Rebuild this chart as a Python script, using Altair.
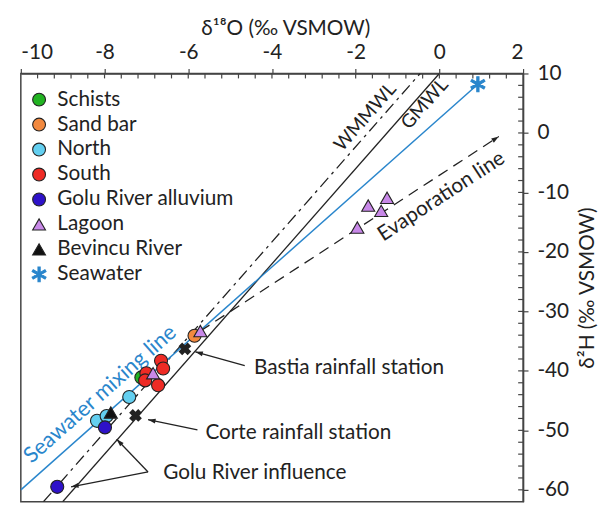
import math
import altair as alt
import pandas as pd

# ---------------- data ----------------
groups = ["Schists", "Sand bar", "North", "South", "Golu River alluvium",
          "Lagoon", "Bevincu River", "Seawater"]
fills = ["#22b322", "#f2893f", "#63cff0", "#ee2b25", "#2e12c9",
         "#c888e8", "#111111", "#2a86cc"]
strokes = ["#222222"] * 7 + ["#2a86cc"]

schists_x = [-7.12]; schists_y = [-41.1]
sandbar_x = [-5.85]; sandbar_y = [-34.1]
north_x = [-7.41, -8.18, -7.95]; north_y = [-44.4, -48.4, -47.6]
south_x = [-6.65, -6.60, -7.00, -7.03, -6.72]; south_y = [-38.3, -39.6, -40.4, -41.6, -42.4]
golu_x = [-7.99, -9.13]; golu_y = [-49.5, -59.5]
lagoon_x = [-1.96, -1.70, -1.39, -1.25, -5.71, -6.84]
lagoon_y = [-15.9, -12.2, -13.1, -10.9, -33.3, -40.4]
bevincu_x = [-7.85]; bevincu_y = [-47.0]
seawater_x = [0.92]; seawater_y = [8.2]

rain_names = ["Bastia", "Corte"]
rain_x = [-6.08, -7.26]; rain_y = [-36.3, -47.5]

# lines (end points)
gmwl_x = [-9.0, 0.0]; gmwl_y = [-62.0, 10.0]
wmmwl_x = [-9.46, -0.46]; wmmwl_y = [-62.0, 10.0]
mix_x = [-10.0, 0.92]; mix_y = [-60.0, 8.2]
evap_x = [-5.71, 1.42]; evap_y = [-33.3, -0.6]

# annotation arrows: start -> tip
arr_x0 = [-4.65, -5.78, -6.96, -6.96]
arr_y0 = [-39.1, -49.9, -57.0, -57.0]
arr_x1 = [-5.83, -6.96, -7.71, -8.80]
arr_y1 = [-36.8, -48.2, -51.5, -59.5]

texts = ["WMMWL", "GMWL", "Evaporation line", "Seawater mixing line",
         "Bastia rainfall station", "Corte rainfall station", "Golu River influence"]
text_x = [-1.77, -0.35, 0.05, -8.11, -4.43, -5.59, -6.60]
text_y = [2.7, 4.9, -10.7, -43.9, -39.6, -50.5, -57.2]

x_ticks = [-10, -8, -6, -4, -2, 0, 2]
y_ticks = [-60, -50, -40, -30, -20, -10, 0, 10]

# ---------------- helpers (styling) ----------------
W, H = 509, 434
XD = [-10, 2]; YD = [-62, 10]
KX = W / (XD[1] - XD[0]); KY = H / (YD[1] - YD[0])
FONT = "Lato"
BLUE = "#2a86cc"
INK = "#222222"


def screen_angle(x0, y0, x1, y1):
    dxp = (x1 - x0) * KX
    dyp = -(y1 - y0) * KY
    return math.degrees(math.atan2(dxp, -dyp)) % 360


def slope_text_angle(xs, ys):
    s = (ys[1] - ys[0]) / (xs[1] - xs[0]) * KY / KX
    return (360 - math.degrees(math.atan(s))) % 360


def asterisk_path(w=0.17, r=1.15):
    parts = []
    for a in (0, 60, 120):
        t = math.radians(a)
        c, s = math.cos(t), math.sin(t)
        pts = [(-w, -r), (w, -r), (w, r), (-w, r)]
        rp = [(px * c - py * s, px * s + py * c) for px, py in pts]
        parts.append("M" + "L".join(f"{px:.3f},{py:.3f}" for px, py in rp) + "Z")
    return "".join(parts)


ARROW = "M0,0L0.55,1.7L-0.55,1.7Z"
shapes = ["circle"] * 5 + ["triangle-up", "triangle-up", asterisk_path()]

rows = []
for g, xs_, ys_ in [("Schists", schists_x, schists_y), ("Sand bar", sandbar_x, sandbar_y),
                    ("North", north_x, north_y), ("South", south_x, south_y),
                    ("Golu River alluvium", golu_x, golu_y), ("Lagoon", lagoon_x, lagoon_y),
                    ("Bevincu River", bevincu_x, bevincu_y), ("Seawater", seawater_x, seawater_y)]:
    for a, b in zip(xs_, ys_):
        rows.append({"group": g, "x": a, "y": b,
                     "ord": 1 if g in ("Lagoon", "Bevincu River", "Seawater") else 0})
pts = pd.DataFrame(rows)

legend = alt.Legend(orient="none", legendX=8, legendY=16, title=None,
                    labelFontSize=21, labelFont=FONT, labelColor=INK, labelLimit=400,
                    symbolSize=170, symbolStrokeWidth=1.1, rowPadding=3.3,
                    labelOffset=8, padding=0)

xaxis = alt.Axis(orient="top", values=x_ticks, title="δ¹⁸O (‰ VSMOW)",
                 labelExpr="datum.value < 0 ? '-' + abs(datum.value) : '' + datum.value",
                 grid=False, tickSize=5, labelPadding=6, titlePadding=4,
                 titleX=268)
yaxis = alt.Axis(orient="right", values=y_ticks, title="δ²H (‰ VSMOW)",
                 labelExpr="datum.value < 0 ? '-' + abs(datum.value) : '' + datum.value",
                 grid=False, tickSize=5, labelPadding=9, titlePadding=8,
                 titleAngle=270, titleBaseline="top")

xs = alt.Scale(domain=XD, nice=False, zero=False)
ys = alt.Scale(domain=YD, nice=False, zero=False)

points = alt.Chart(pts).mark_point(filled=True, opacity=1, strokeWidth=1.1, size=175).encode(
    x=alt.X("x:Q", scale=xs, axis=xaxis),
    y=alt.Y("y:Q", scale=ys, axis=yaxis),
    fill=alt.Fill("group:N", scale=alt.Scale(domain=groups, range=fills), legend=legend),
    shape=alt.Shape("group:N", scale=alt.Scale(domain=groups, range=shapes), legend=legend),
    stroke=alt.Stroke("group:N", scale=alt.Scale(domain=groups, range=strokes), legend=legend),
    order=alt.Order("ord:Q"),
)

rain = alt.Chart(pd.DataFrame({"name": rain_names, "x": rain_x, "y": rain_y})).mark_point(
    shape="cross", angle=45, filled=True, color=INK, size=170, opacity=1).encode(
    x=alt.X("x:Q", scale=xs), y=alt.Y("y:Q", scale=ys))


def line_layer(lx, ly, color, dash=None, width=1.3):
    kw = dict(color=color, strokeWidth=width, clip=True)
    if dash:
        kw["strokeDash"] = dash
    return alt.Chart(pd.DataFrame({"x": lx, "y": ly})).mark_line(**kw).encode(
        x=alt.X("x:Q", scale=xs), y=alt.Y("y:Q", scale=ys))


gmwl = line_layer(gmwl_x, gmwl_y, INK)
wmmwl = line_layer(wmmwl_x, wmmwl_y, INK, dash=[12, 5, 3, 5])
mix = line_layer(mix_x, mix_y, BLUE, width=1.5)
evap = line_layer(evap_x, evap_y, INK, dash=[11, 7])

arr_df = pd.DataFrame({"x": arr_x0, "y": arr_y0, "x2": arr_x1, "y2": arr_y1})
arr_df["angle"] = [screen_angle(a, b, c, d) for a, b, c, d in zip(arr_x0, arr_y0, arr_x1, arr_y1)]
shafts = alt.Chart(arr_df).mark_rule(color=INK, strokeWidth=1.3).encode(
    x=alt.X("x:Q", scale=xs), y=alt.Y("y:Q", scale=ys), x2="x2:Q", y2="y2:Q")

heads_df = pd.DataFrame({"x": arr_x1 + [evap_x[1]], "y": arr_y1 + [evap_y[1]]})
heads_df["angle"] = list(arr_df["angle"]) + [screen_angle(evap_x[0], evap_y[0], evap_x[1], evap_y[1])]
heads = alt.Chart(heads_df).mark_point(shape=ARROW, filled=True, color=INK, size=80, opacity=1).encode(
    x=alt.X("x:Q", scale=xs), y=alt.Y("y:Q", scale=ys), angle=alt.Angle("angle:Q", scale=None))

ang_w = slope_text_angle(wmmwl_x, wmmwl_y)
ang_m = slope_text_angle(mix_x, mix_y)
ang_e = slope_text_angle(evap_x, evap_y)
txt_s_df = pd.DataFrame({"t": texts[:2], "x": text_x[:2], "y": text_y[:2], "angle": [ang_w, ang_w]})
txt_e_df = pd.DataFrame({"t": texts[2:3], "x": text_x[2:3], "y": text_y[2:3], "angle": [ang_e]})
txt_b_df = pd.DataFrame({"t": texts[3:4], "x": text_x[3:4], "y": text_y[3:4], "angle": [ang_m]})
txt_l_df = pd.DataFrame({"t": texts[4:], "x": text_x[4:], "y": text_y[4:]})

txt_s = alt.Chart(txt_s_df).mark_text(
    fontSize=19, font=FONT, align="center", baseline="middle", color=INK).encode(
    x=alt.X("x:Q", scale=xs), y=alt.Y("y:Q", scale=ys), text="t:N",
    angle=alt.Angle("angle:Q", scale=None))
txt_e = alt.Chart(txt_e_df).mark_text(
    fontSize=21, font=FONT, align="center", baseline="middle", color=INK).encode(
    x=alt.X("x:Q", scale=xs), y=alt.Y("y:Q", scale=ys), text="t:N",
    angle=alt.Angle("angle:Q", scale=None))
txt_b = alt.Chart(txt_b_df).mark_text(
    fontSize=22, font=FONT, align="center", baseline="middle", color=BLUE).encode(
    x=alt.X("x:Q", scale=xs), y=alt.Y("y:Q", scale=ys), text="t:N",
    angle=alt.Angle("angle:Q", scale=None))
txt_l = alt.Chart(txt_l_df).mark_text(
    fontSize=21, font=FONT, align="left", baseline="middle", color=INK).encode(
    x=alt.X("x:Q", scale=xs), y=alt.Y("y:Q", scale=ys), text="t:N")

# minor ticks pointing inward
xm = [round(-10 + 0.4 * i, 1) for i in range(1, 30)]
ym = [v for v in range(-60, 10, 2)]
xt = alt.Chart(pd.DataFrame({"x": xm})).mark_rule(color="#444", strokeWidth=1.2, y2Offset=5).encode(
    x=alt.X("x:Q", scale=xs), y=alt.datum(10), y2=alt.datum(10))
yt = alt.Chart(pd.DataFrame({"y": ym})).mark_rule(color="#444", strokeWidth=1.2, x2Offset=-5).encode(
    y=alt.Y("y:Q", scale=ys), x=alt.datum(2), x2=alt.datum(2))

chart = alt.layer(gmwl, wmmwl, mix, evap, shafts, heads, txt_s, txt_e, txt_b, txt_l,
                  xt, yt, rain, points).properties(
    width=W, height=H,
    autosize=alt.AutoSizeParams(type="none"),
    padding={"left": 13, "top": 63, "right": 82, "bottom": 3},
).configure(font=FONT).configure_view(stroke="#444", strokeWidth=1.5).configure_axis(
    labelFontSize=21, titleFontSize=21, titleFontWeight="normal", labelFont=FONT, titleFont=FONT,
    labelColor=INK, titleColor=INK, domainColor="#444", domainWidth=1.5,
    tickColor="#444", tickWidth=1.2)

chart.save("out.html", embed_options={"renderer": "svg", "actions": False})
